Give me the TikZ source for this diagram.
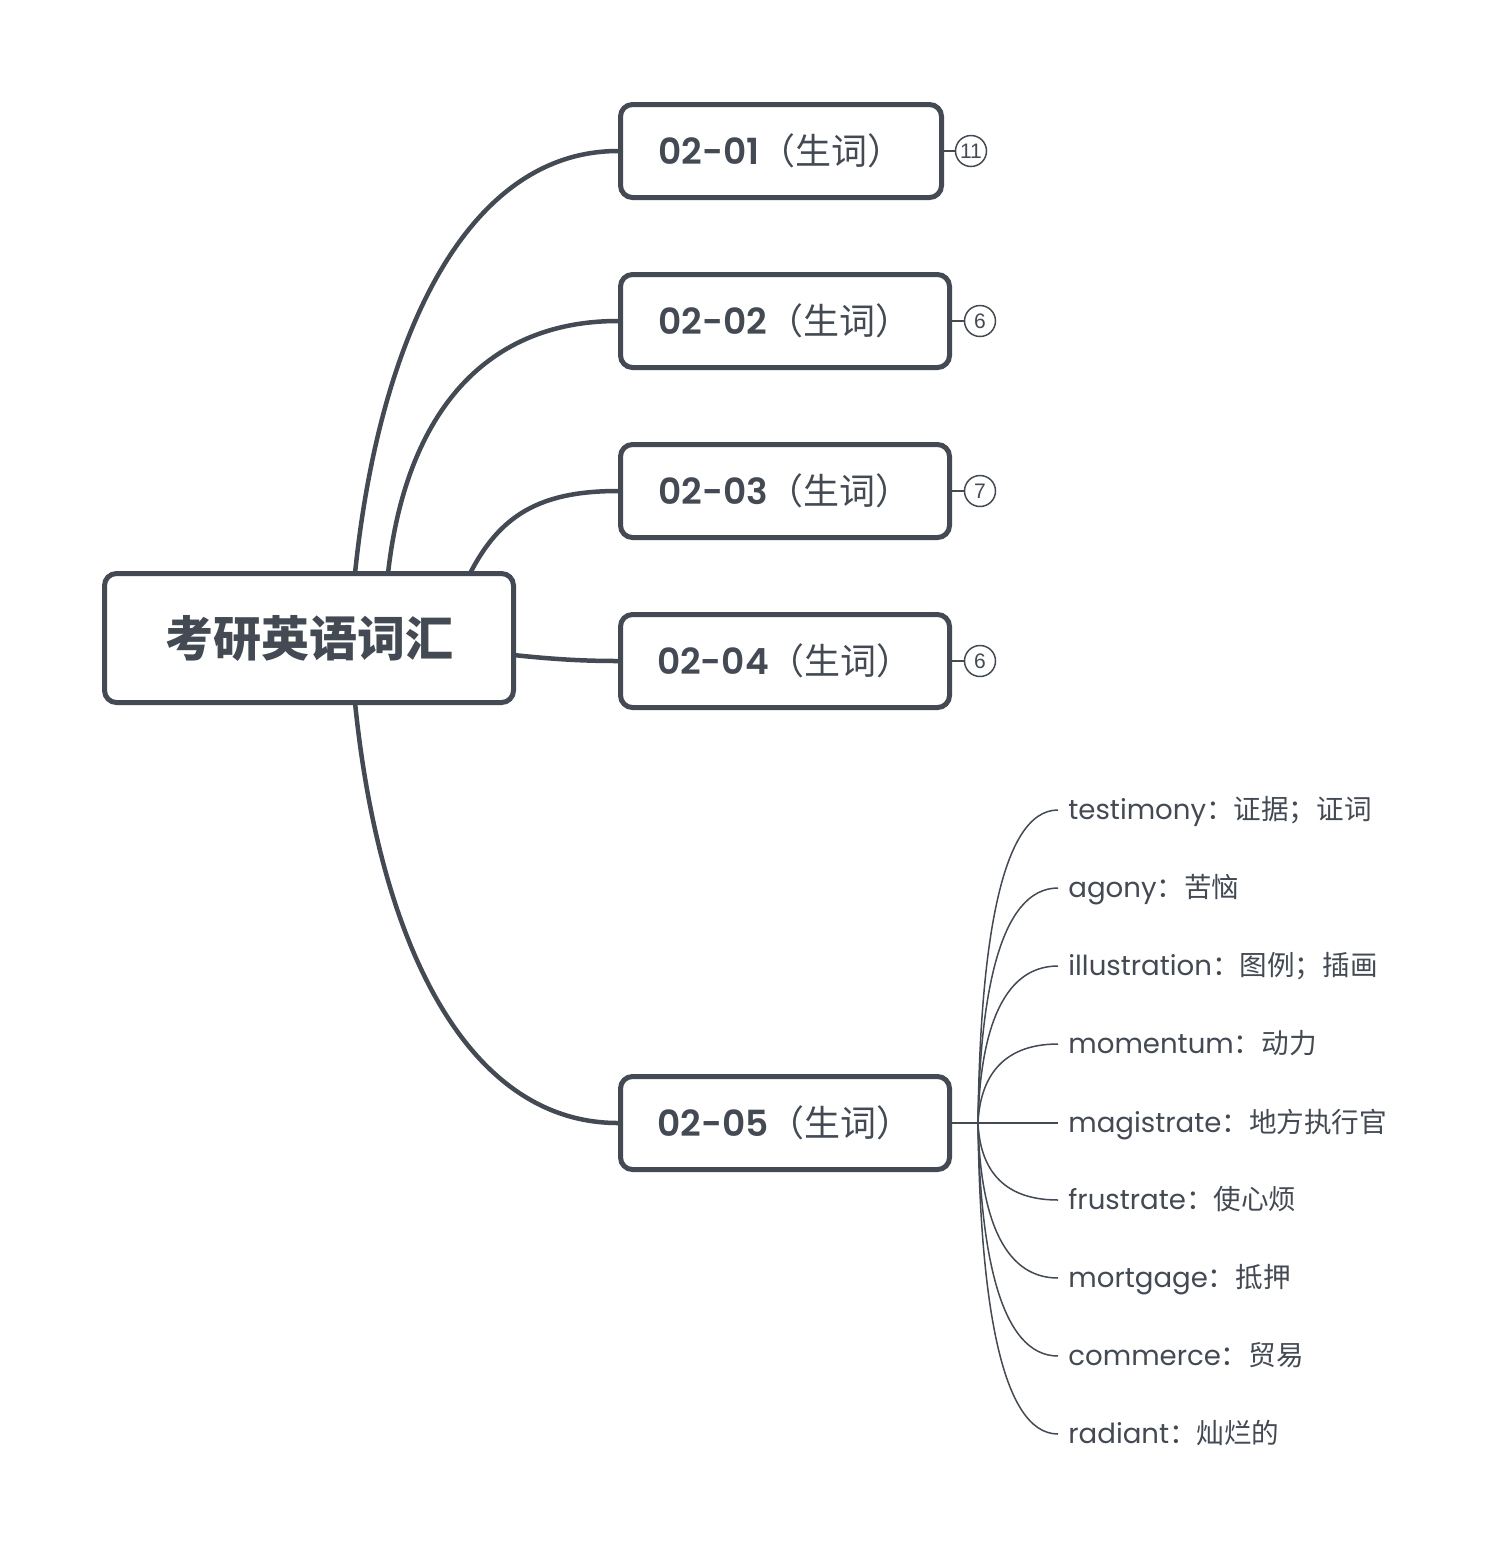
\documentclass[tikz,border=0pt]{standalone}
\usepackage{fontspec}
\newfontfamily\cjk{Noto Sans CJK SC}
\newfontfamily\lat{Poppins}
\newfontfamily\latsb{Poppins SemiBold}
\newfontfamily\numf{Liberation Sans}
\definecolor{ink}{RGB}{67,74,84}
\tikzset{
  topic/.style={draw=ink, line width=2.5pt, rounded corners=6pt, fill=white,
    minimum height=46.5pt, inner sep=0pt, text=ink,
    font=\fontsize{18}{20}\selectfont},
  rootbox/.style={draw=ink, line width=2.5pt, rounded corners=6pt, fill=white,
    minimum width=204.5pt, minimum height=64.5pt, inner sep=0pt, text=ink,
    font=\cjk\bfseries\fontsize{24}{26}\selectfont},
  mainline/.style={draw=ink, line width=2.25pt},
  thinline/.style={draw=ink, line width=0.75pt},
  badge/.style={circle, draw=ink, line width=0.75pt, minimum size=15.5pt, inner sep=0pt,
    text=ink, font=\numf\fontsize{10.5}{10.5}\selectfont},
  leaf/.style={anchor=west, inner xsep=5pt, inner ysep=0pt, text=ink,
    text height=12pt, text depth=3pt,
    font=\fontsize{13.8}{16}\selectfont}
}
\newcommand\tlabel[1]{{\latsb #1}{\cjk （生词）}}
\newcommand\wleaf[2]{{\lat #1}{\cjk ：#2}}
\begin{document}
\begin{tikzpicture}[x=0.5pt,y=-0.5pt]
\useasboundingbox[fill=white] (0,0) rectangle (1498,1564);

% nodes
\node[rootbox] (root) at (309,638) {考研英语词汇};
\node[topic, minimum width=160.5pt] (n1) at (781,151) {\tlabel{02-01}};
\node[topic, minimum width=164.5pt] (n2) at (785,321) {\tlabel{02-02}};
\node[topic, minimum width=164.5pt] (n3) at (785,491) {\tlabel{02-03}};
\node[topic, minimum width=164.5pt] (n4) at (785,661) {\tlabel{02-04}};
\node[topic, minimum width=164.5pt] (n5) at (785,1123) {\tlabel{02-05}};

\node[badge] (b1) at (971,151) {11};
\node[badge] (b2) at (980,321) {6};
\node[badge] (b3) at (980,491) {7};
\node[badge] (b4) at (980,661) {6};

\node[leaf] (l1) at (1058,810) {\wleaf{testimony}{证据；证词}};
\node[leaf] (l2) at (1058,888) {\wleaf{agony}{苦恼}};
\node[leaf] (l3) at (1058,966) {\wleaf{illustration}{图例；插画}};
\node[leaf] (l4) at (1058,1044) {\wleaf{momentum}{动力}};
\node[leaf] (l5) at (1058,1123) {\wleaf{magistrate}{地方执行官}};
\node[leaf] (l6) at (1058,1200) {\wleaf{frustrate}{使心烦}};
\node[leaf] (l7) at (1058,1278) {\wleaf{mortgage}{抵押}};
\node[leaf] (l8) at (1058,1356) {\wleaf{commerce}{贸易}};
\node[leaf] (l9) at (1058,1434) {\wleaf{radiant}{灿烂的}};

% connector start points on the root box
\coordinate (r1) at (355,573.5);
\coordinate (r2) at (388,573.5);
\coordinate (r3) at (470,573.5);
\coordinate (r4) at (513.5,655);
\coordinate (r5) at (355,702.5);
\coordinate (hub) at (978,1123);

% main connectors
\draw[mainline] (r1) .. controls (380,330) and (470,151) .. (n1.west);
\draw[mainline] (r2) .. controls (405,420) and (480,321) .. (n2.west);
\draw[mainline] (r3) .. controls (500,515) and (540,491) .. (n3.west);
\draw[mainline] (r4) .. controls (560,660) and (590,661) .. (n4.west);
\draw[mainline] (r5) .. controls (380,950) and (470,1123) .. (n5.west);

% badges
\draw[thinline] (n1.east) -- (b1.west);
\draw[thinline] (n2.east) -- (b2.west);
\draw[thinline] (n3.east) -- (b3.west);
\draw[thinline] (n4.east) -- (b4.west);

% leaf connectors
\draw[thinline] (n5.east) -- (hub) -- (l5.west);
\draw[thinline] (hub) .. controls (980,950) and (1000,810) .. (l1.west);
\draw[thinline] (hub) .. controls (980,994) and (1000,888) .. (l2.west);
\draw[thinline] (hub) .. controls (980,1037) and (1000,966) .. (l3.west);
\draw[thinline] (hub) .. controls (980,1080) and (1000,1044) .. (l4.west);
\draw[thinline] (hub) .. controls (980,1166) and (1000,1200) .. (l6.west);
\draw[thinline] (hub) .. controls (980,1209) and (1000,1278) .. (l7.west);
\draw[thinline] (hub) .. controls (980,1252) and (1000,1356) .. (l8.west);
\draw[thinline] (hub) .. controls (980,1295) and (1000,1434) .. (l9.west);
\end{tikzpicture}
\end{document}
